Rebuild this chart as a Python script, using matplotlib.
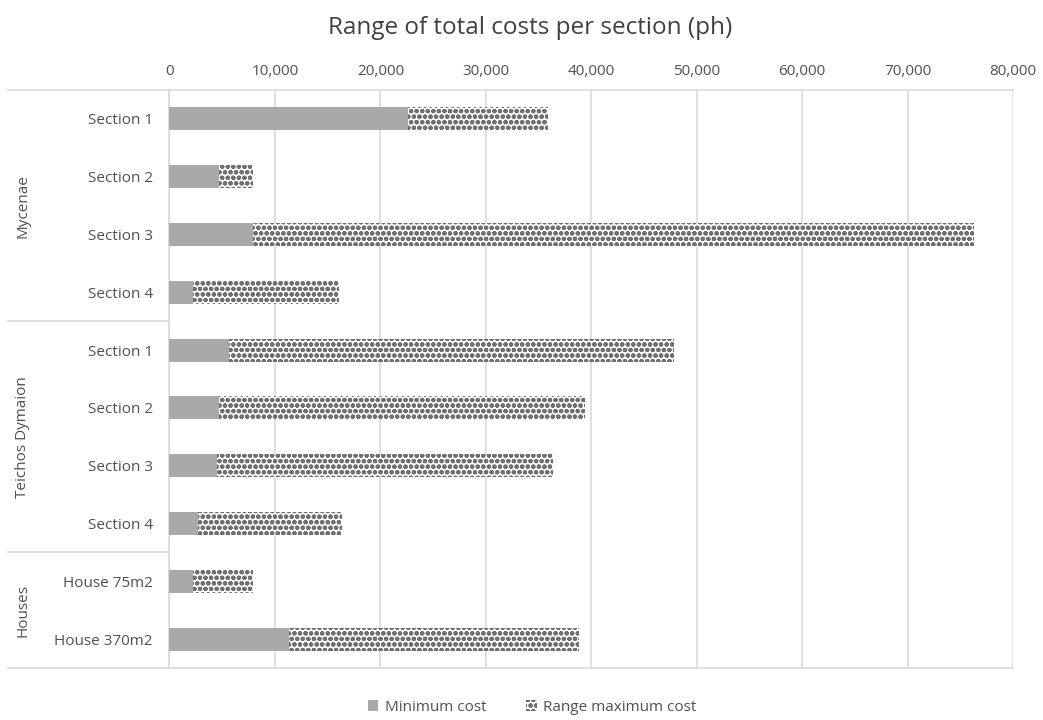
import matplotlib.pyplot as plt
import matplotlib.transforms as mtransforms
from matplotlib.patches import Patch
from matplotlib.ticker import FuncFormatter

plt.rcParams['font.family'] = ['Open Sans', 'DejaVu Sans']
plt.rcParams['hatch.linewidth'] = 1.5

# data
categories = ['Section 1', 'Section 2', 'Section 3', 'Section 4',
              'Section 1', 'Section 2', 'Section 3', 'Section 4',
              'House 75m2', 'House 370m2']
groups = ['Mycenae', 'Teichos Dymaion', 'Houses']
group_sizes = [4, 4, 2]
min_cost = [22660, 4730, 7950, 2260, 5670, 4720, 4480, 2670, 2260, 11370]
max_cost = [35880, 7950, 76300, 16110, 47800, 39420, 36410, 16370, 7890, 38880]
range_cost = [hi - lo for lo, hi in zip(min_cost, max_cost)]

grid_col = '#d9d9d9'
min_col = '#a9a9a9'
hatch_col = '#707070'
text_col = '#505050'

fig = plt.figure(figsize=(10.43, 7.2), dpi=100)
ax = fig.add_axes([0.1625, 0.0722, 0.8088, 0.8028])

y = list(range(len(categories)))
ax.barh(y, min_cost, height=0.4, color=min_col, zorder=3)
ax.barh(y, range_cost, left=min_cost, height=0.4, color='white',
        edgecolor=hatch_col, hatch='ooo', linewidth=0, zorder=3)

ax.set_xlim(0, 80000)
ax.set_ylim(len(categories) - 0.5, -0.5)
ax.set_xticks(range(0, 80001, 10000))
ax.xaxis.set_major_formatter(FuncFormatter(lambda v, p: f'{int(v):,}'))
ax.xaxis.tick_top()
ax.grid(axis='x', color=grid_col, linewidth=1.2, zorder=0)
ax.tick_params(axis='both', length=0, labelsize=11, colors=text_col, pad=8)
ax.set_yticks(y)
ax.set_yticklabels(categories)
ax.tick_params(axis='y', pad=12)

for s in ['right', 'bottom']:
    ax.spines[s].set_visible(False)
ax.spines['left'].set_color(grid_col)
ax.spines['left'].set_linewidth(1.2)
ax.spines['top'].set_color(grid_col)
ax.spines['top'].set_linewidth(1.2)

# group separators and labels to the left of the category names
trans = mtransforms.blended_transform_factory(ax.transAxes, ax.transData)
x_left = -0.1915
ax.plot([x_left, 0], [-0.5, -0.5], transform=trans, color=grid_col,
        linewidth=1.2, clip_on=False)
start = 0
for name, size in zip(groups, group_sizes):
    end = start + size
    ax.plot([x_left, 1 if end == len(categories) else 0],
            [end - 0.5, end - 0.5], transform=trans, color=grid_col,
            linewidth=1.2, clip_on=False)
    ax.text(-0.174, (start + end - 1) / 2, name, transform=trans, rotation=90,
            ha='center', va='center', fontsize=11, color=text_col)
    start = end

fig.suptitle('Range of total costs per section (ph)', x=0.508, y=0.978,
             fontsize=17.5, color='#404040')

handles = [Patch(facecolor=min_col, label='Minimum cost'),
           Patch(facecolor='white', edgecolor=hatch_col, hatch='ooo',
                 linewidth=0, label='Range maximum cost')]
fig.legend(handles=handles, loc='center', bbox_to_anchor=(0.51, 0.018),
           ncol=2, frameon=False, fontsize=11, labelcolor=text_col,
           handlelength=0.7, handleheight=0.7, handletextpad=0.4,
           columnspacing=2.6)

fig.savefig('out.png', dpi=100)
